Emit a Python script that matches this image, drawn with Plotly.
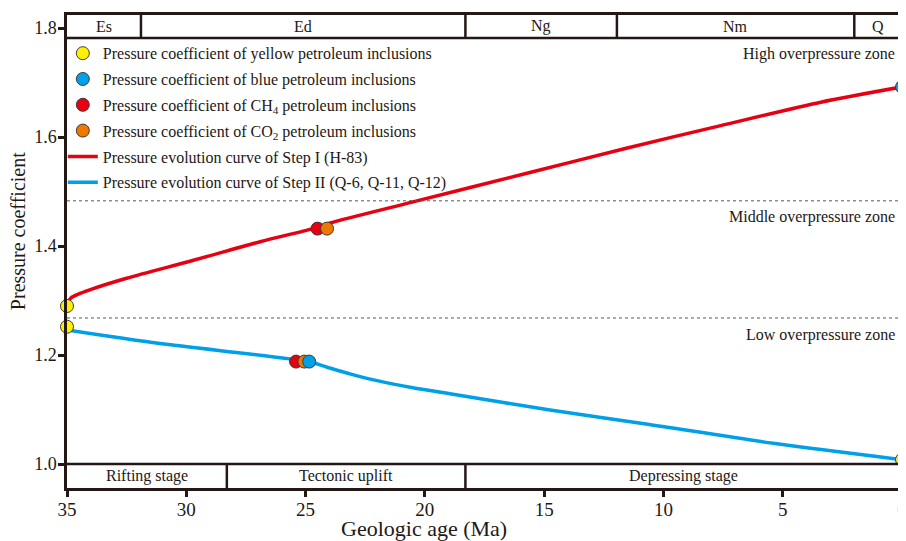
import plotly.graph_objects as go

# ---------------- data ----------------
red_age = [35, 34.85, 34.45, 33.9, 32.5, 29.7, 26.9, 24.7, 24.0, 20.5, 15.6, 11.6, 7.6, 3.4, 0]
red_val = [1.29, 1.304, 1.313, 1.322, 1.341, 1.374, 1.408, 1.432, 1.442, 1.481, 1.535, 1.579, 1.621, 1.664, 1.692]

blue_age = [35, 31.1, 24.9, 24.1, 23.1, 22.0, 20.5, 18.95, 14.75, 10.8, 5.4, 0]
blue_val = [1.246, 1.221, 1.188, 1.1776, 1.165, 1.153, 1.140, 1.129, 1.099, 1.074, 1.038, 1.008]

yellow_age = [35, 35, 0]
yellow_val = [1.29, 1.252, 1.008]
bluept_age = [0, 24.85]
bluept_val = [1.692, 1.188]
ch4_age = [24.5, 25.4]
ch4_val = [1.432, 1.188]
co2_age = [24.1, 25.05]
co2_val = [1.432, 1.188]

zone_bounds = [1.483, 1.268]
zone_labels = ["High overpressure zone", "Middle overpressure zone", "Low overpressure zone"]
zone_label_y = [1.752, 1.453, 1.237]

strat_labels = ["Es", "Ed", "Ng", "Nm", "Q"]
strat_bounds = [35, 31.9, 18.3, 11.95, 2.0, 0]
stage_labels = ["Rifting stage", "Tectonic uplift", "Depressing stage"]
stage_bounds = [35, 28.3, 18.3, 0]

x_ticks = [35, 30, 25, 20, 15, 10, 5, 0]
y_ticks = [1.0, 1.2, 1.4, 1.6, 1.8]

# ---------------- styles ----------------
FONT = "Liberation Serif, Times New Roman, serif"
INK = "#231815"
RED = "#e60012"
BLUE = "#00a0e9"
YELLOW = "#fff100"
ORANGE = "#ee7800"
Y_MIN, Y_MAX = 0.956, 1.824
TOP_BAND = 1.782
BOT_BAND = 1.0

fig = go.Figure()

fig.add_trace(go.Scatter(x=red_age, y=red_val, mode="lines",
                         line=dict(color=RED, width=3.5, shape="spline", smoothing=0.8),
                         name="Pressure evolution curve of Step I (H-83)", legendgroup="e", legendrank=5))
fig.add_trace(go.Scatter(x=blue_age, y=blue_val, mode="lines",
                         line=dict(color=BLUE, width=3.5, shape="spline", smoothing=0.8),
                         name="Pressure evolution curve of Step II (Q-6, Q-11, Q-12)", legendgroup="f", legendrank=6))

mk_line = dict(color="#3e3a39", width=1)
for ages, vals, col, nm, grp, rk in [
    (yellow_age, yellow_val, YELLOW, "Pressure coefficient of yellow petroleum inclusions", "a", 1),
    (ch4_age, ch4_val, RED, "Pressure coefficient of CH<sub>4</sub> petroleum inclusions", "c", 3),
    (co2_age, co2_val, ORANGE, "Pressure coefficient of CO<sub>2</sub> petroleum inclusions", "d", 4),
    (bluept_age, bluept_val, BLUE, "Pressure coefficient of blue petroleum inclusions", "b", 2),
]:
    fig.add_trace(go.Scatter(x=ages, y=vals, mode="markers", cliponaxis=False,
                             marker=dict(color=col, size=13, line=mk_line),
                             name=nm, legendgroup=grp, legendrank=rk))

shapes = []
for b in zone_bounds:
    shapes.append(dict(type="line", xref="x", yref="y", x0=35, x1=0, y0=b, y1=b,
                       line=dict(color="#595757", width=1, dash="dot")))
for yb in [TOP_BAND, BOT_BAND]:
    shapes.append(dict(type="line", xref="x", yref="y", x0=35, x1=0, y0=yb, y1=yb,
                       line=dict(color=INK, width=2.5)))
for b in strat_bounds[1:-1]:
    shapes.append(dict(type="line", xref="x", yref="y", x0=b, x1=b, y0=TOP_BAND, y1=Y_MAX,
                       line=dict(color=INK, width=2.5)))
for b in stage_bounds[1:-1]:
    shapes.append(dict(type="line", xref="x", yref="y", x0=b, x1=b, y0=Y_MIN, y1=BOT_BAND,
                       line=dict(color=INK, width=2.5)))

ann = []
for i, lab in enumerate(strat_labels):
    ann.append(dict(x=(strat_bounds[i] + strat_bounds[i + 1]) / 2, y=(TOP_BAND + Y_MAX) / 2,
                    xref="x", yref="y", text=lab, showarrow=False,
                    font=dict(family=FONT, size=16, color=INK)))
for i, lab in enumerate(stage_labels):
    ann.append(dict(x=(stage_bounds[i] + stage_bounds[i + 1]) / 2, y=(BOT_BAND + Y_MIN) / 2,
                    xref="x", yref="y", text=lab, showarrow=False,
                    font=dict(family=FONT, size=16, color=INK)))
for lab, yv in zip(zone_labels, zone_label_y):
    ann.append(dict(x=0, y=yv, xref="x", yref="y", text=lab, showarrow=False, xanchor="right",
                    xshift=-5, font=dict(family=FONT, size=16, color=INK)))
# axis titles
ann.append(dict(x=0.4275, y=-0.086, xref="paper", yref="paper", text="Geologic age (Ma)",
                showarrow=False, xanchor="center", yanchor="middle",
                font=dict(family=FONT, size=22, color=INK)))
ann.append(dict(x=-0.0587, y=0.543, xref="paper", yref="paper", text="Pressure coefficient",
                showarrow=False, xanchor="center", yanchor="middle", textangle=-90,
                font=dict(family=FONT, size=20, color=INK)))

# page body has an 8px margin: figure is sized/positioned to compensate
fig.update_layout(
    width=898, height=533,
    margin=dict(l=59, r=4, t=7, b=53),
    paper_bgcolor="white", plot_bgcolor="white",
    font=dict(family=FONT, color=INK),
    shapes=shapes, annotations=ann,
    showlegend=True,
    legend=dict(x=-0.005, y=0.955, xanchor="left", yanchor="top", bgcolor="rgba(0,0,0,0)",
                font=dict(family=FONT, size=16, color=INK), tracegroupgap=2,
                traceorder="grouped", itemsizing="trace"),
    xaxis=dict(range=[35, 0], tickvals=x_ticks, ticks="outside", ticklen=6, tickwidth=2.5,
               tickcolor=INK, showline=True, linecolor=INK, linewidth=2.5, mirror=True,
               showgrid=False, zeroline=False, automargin=False, ticklabelstandoff=-4,
               ticklabeloverflow="allow",
               tickfont=dict(family=FONT, size=19, color=INK)),
    yaxis=dict(range=[Y_MIN, Y_MAX], tickvals=y_ticks, tickformat=".1f", ticks="outside", ticklen=6,
               tickwidth=2.5, tickcolor=INK, showline=True, linecolor=INK, linewidth=2.5, mirror=True,
               showgrid=False, zeroline=False, automargin=False, ticklabelstandoff=-2,
               tickfont=dict(family=FONT, size=18, color=INK)),
)

fig.write_html("out.html")
